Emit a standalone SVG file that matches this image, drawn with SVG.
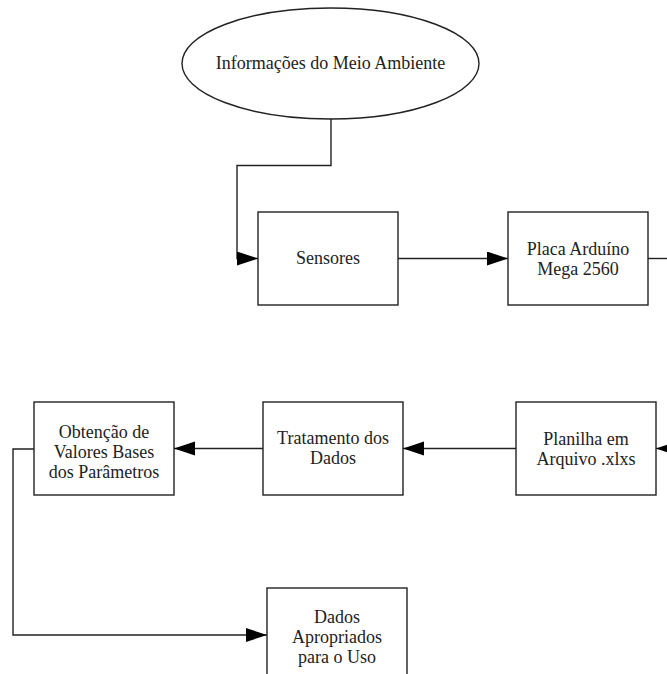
<svg xmlns="http://www.w3.org/2000/svg" width="667" height="674" viewBox="0 0 667 674">
<style>
.n{fill:#fff;stroke:#222;stroke-width:1.4}
.e{fill:none;stroke:#222;stroke-width:1.4}
text{font-family:"Liberation Serif","Times New Roman","DejaVu Serif",serif;font-size:18px;fill:#222;text-anchor:middle}
</style>
<defs>
<marker id="ah" markerUnits="userSpaceOnUse" markerWidth="22" markerHeight="16" refX="21" refY="7" orient="auto">
<path d="M0,0 L21,7 L0,14 Z" fill="#000"/>
</marker>
</defs>
<rect width="667" height="674" fill="#fff"/>
<g id="connectors">
<path class="e" d="M331,119 V165.5 H237 V258.5 H258" marker-end="url(#ah)"/>
<path class="e" d="M398,258.5 H508" marker-end="url(#ah)"/>
<path class="e" d="M648,258.5 H667"/>
<path class="e" d="M677,448.5 H656" marker-end="url(#ah)"/>
<path class="e" d="M516,448.5 H403" marker-end="url(#ah)"/>
<path class="e" d="M263,448.5 H174" marker-end="url(#ah)"/>
<path class="e" d="M34,449 H13 V635 H267" marker-end="url(#ah)"/>
</g>
<g id="n_info">
<ellipse class="n" cx="330.5" cy="63.5" rx="148.5" ry="55.5"/>
<text x="330.5" y="69">Informações do Meio Ambiente</text>
</g>
<g id="n_sensores">
<rect class="n" x="258" y="212" width="140" height="93"/>
<text x="328" y="264">Sensores</text>
</g>
<g id="n_placa">
<rect class="n" x="508" y="212" width="140" height="93"/>
<text x="578" y="255">Placa Arduíno</text>
<text x="578" y="275">Mega 2560</text>
</g>
<g id="n_planilha">
<rect class="n" x="516" y="402" width="140" height="93"/>
<text x="586" y="445">Planilha em</text>
<text x="586" y="465">Arquivo .xlxs</text>
</g>
<g id="n_tratamento">
<rect class="n" x="263" y="402" width="140" height="93"/>
<text x="333" y="444">Tratamento dos</text>
<text x="333" y="464">Dados</text>
</g>
<g id="n_obtencao">
<rect class="n" x="34" y="402" width="140" height="93"/>
<text x="104" y="438">Obtenção de</text>
<text x="104" y="458">Valores Bases</text>
<text x="104" y="478">dos Parâmetros</text>
</g>
<g id="n_dados">
<rect class="n" x="267" y="588" width="140" height="93"/>
<text x="337" y="623">Dados</text>
<text x="337" y="643">Apropriados</text>
<text x="337" y="663">para o Uso</text>
</g>
</svg>
